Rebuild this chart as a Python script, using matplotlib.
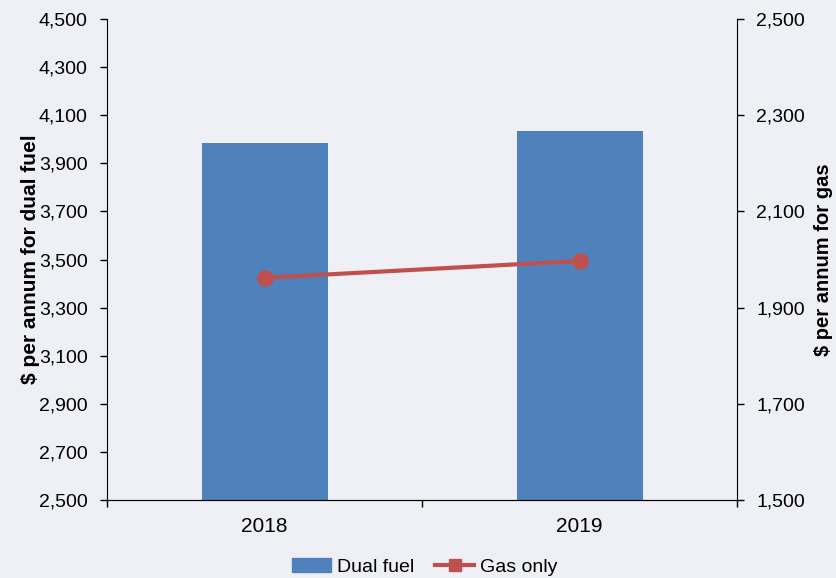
import numpy as np
import matplotlib.pyplot as plt
from matplotlib.ticker import FuncFormatter
from matplotlib.lines import Line2D
from matplotlib.patches import Patch

years = ['2018', '2019']
dual_fuel = [3983, 4033]
gas_only = [1962, 1997]

bg = '#eff0f5'
blue = '#4f81bd'
red = '#c0504d'
plt.rcParams['font.family'] = ['Liberation Sans', 'DejaVu Sans']

fig = plt.figure(figsize=(8.36, 5.78), dpi=100, facecolor=bg)
ax = fig.add_axes([0.128, 0.135, 0.7536, 0.832])
ax.set_facecolor(bg)
x = np.arange(len(years))

# bars on the left axis
ax.bar(x, dual_fuel, width=0.4, color=blue, zorder=2)
ax.set_ylim(2500, 4500)
ax.set_yticks(np.arange(2500, 4501, 200))
ax.set_xlim(-0.5, 1.5)
ax.set_xticks(x)
ax.set_xticklabels(years)
ax.set_xticks([-0.5, 0.5, 1.5], minor=True)
ax.tick_params(axis='x', which='major', length=0, pad=12, labelsize=15)
ax.tick_params(axis='x', which='minor', length=5, width=1)
ax.tick_params(axis='y', length=5, width=1, labelsize=14, pad=9)
fmt = FuncFormatter(lambda v, p: f'{int(v):,}')
ax.yaxis.set_major_formatter(fmt)
ax.spines['top'].set_visible(False)
ax.spines['right'].set_visible(False)
ax.set_ylabel('$ per annum for dual fuel', fontsize=15, fontweight='bold', labelpad=-1)

# line on the right axis
ax2 = ax.twinx()
ax2.plot(x, gas_only, color=red, linewidth=3, marker='o', markersize=11, zorder=3)
ax2.set_ylim(1500, 2500)
ax2.set_yticks(np.arange(1500, 2501, 200))
ax2.yaxis.set_major_formatter(fmt)
ax2.tick_params(axis='y', length=5, width=1, labelsize=14, pad=9)
ax2.spines['top'].set_visible(False)
ax2.spines['left'].set_visible(False)
ax2.set_ylabel('$ per annum for gas', fontsize=14.5, fontweight='bold', labelpad=6)

handles = [Patch(color=blue),
           Line2D([0], [0], color=red, linewidth=3, marker='s', markersize=9)]
fig.legend(handles, ['Dual fuel', 'Gas only'], loc='center',
           bbox_to_anchor=(0.508, 0.019), ncol=2, frameon=False, fontsize=14,
           handlelength=2.0, handletextpad=0.3, columnspacing=1.1)

fig.savefig('out.png', dpi=100, facecolor=bg)
